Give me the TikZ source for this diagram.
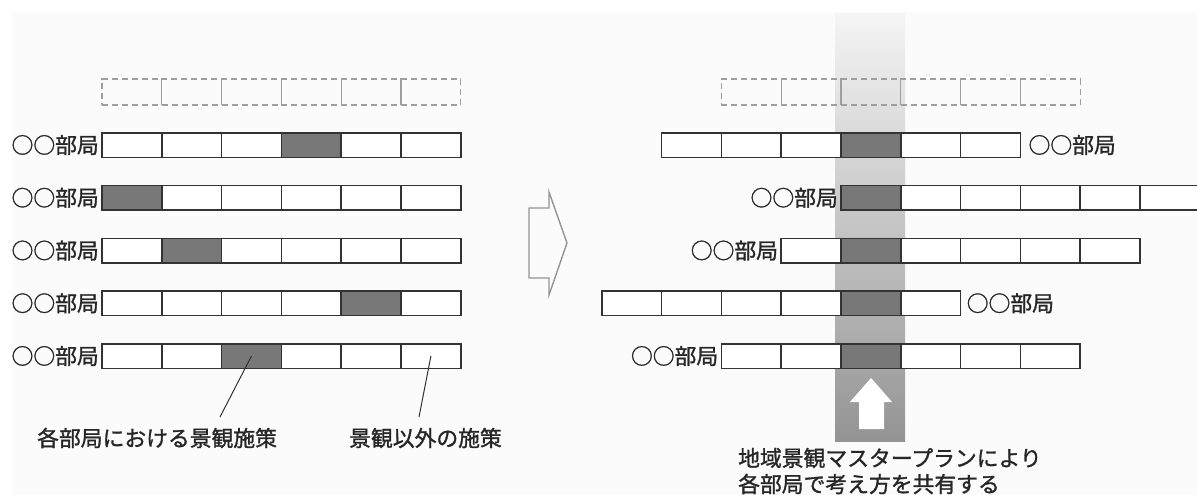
\documentclass[tikz,border=0pt]{standalone}
\usepackage{fontspec}
\newfontfamily\jp[FakeBold=1.3]{Noto Sans CJK JP}
\begin{document}
\begin{tikzpicture}[x=1pt,y=-1pt,
  cell/.style={draw=black!80, line width=1.5pt, fill=white, minimum width=59.8pt, minimum height=24.5pt, inner sep=0pt, outer sep=0pt, anchor=west},
  hot/.style={cell, fill=black!53},
  ghost/.style={draw=black!38, line width=1.1pt, dash pattern=on 6pt off 4pt, minimum width=59.8pt, minimum height=26pt, inner sep=0pt, outer sep=0pt, anchor=west},
  lbl/.style={font=\jp\fontsize{21.8}{26}\selectfont, text=black!85, inner sep=0pt},
  leader/.style={draw=black!80, line width=1pt}]
\useasboundingbox (0,0) rectangle (1197,495);
\clip (0,0) rectangle (1197,495);
\fill[white] (0,0) rectangle (1197,495);
\fill[black!1.5] (12,12) rectangle (1197,495);
% shared-policy band
\shade[top color=black!4, bottom color=black!42] (835,14) rectangle (905,441);
% dashed rows
\foreach \i in {1,...,6} {
  \node[ghost] (GL\i) at ({102+(\i-1)*59.8},92) {};
  \node[ghost] (GR\i) at ({721.4+(\i-1)*59.8},92) {};
}
% left rows
\foreach \r/\y/\k in {1/145/4, 2/197.75/1, 3/250.5/2, 4/303.25/5, 5/356/3} {
  \foreach \i in {1,...,6} {
    \ifnum\i=\k
      \node[hot] (L\r-\i) at ({102+(\i-1)*59.8},\y) {};
    \else
      \node[cell] (L\r-\i) at ({102+(\i-1)*59.8},\y) {};
    \fi
  }
  \node[lbl, anchor=east] (LL\r) at ([xshift=-3pt]L\r-1.west) {○○部局};
}
% right rows
\foreach \r/\y/\k/\n in {1/145/4/6, 2/197.75/1/7, 3/250.5/2/6, 4/303.25/5/6, 5/356/3/6} {
  \foreach \i in {1,...,\n} {
    \ifnum\i=\k
      \node[hot] (R\r-\i) at ({841-(\k-1)*59.8+(\i-1)*59.8},\y) {};
    \else
      \node[cell] (R\r-\i) at ({841-(\k-1)*59.8+(\i-1)*59.8},\y) {};
    \fi
  }
}
\node[lbl, anchor=west] (RL1) at ([xshift=8pt]R1-6.east) {○○部局};
\node[lbl, anchor=east] (RL2) at ([xshift=-3pt]R2-1.west) {○○部局};
\node[lbl, anchor=east] (RL3) at ([xshift=-3pt]R3-1.west) {○○部局};
\node[lbl, anchor=west] (RL4) at ([xshift=6pt]R4-6.east) {○○部局};
\node[lbl, anchor=east] (RL5) at ([xshift=-3pt]R5-1.west) {○○部局};
% middle hollow arrow
\draw[draw=black!42, line width=1.4pt, line join=miter]
  (529,208) -- (549,208) -- (549,192) -- (567,243) -- (549,295) -- (549,278) -- (529,278) -- cycle;
% white up arrow in band
\fill[white] (859,429) -- (884,429) -- (884,402) -- (892,402) -- (871,378) -- (850,402) -- (859,402) -- cycle;
% captions
\node[lbl, anchor=west] (capA) at (37,438) {各部局における景観施策};
\node[lbl, anchor=west] (capB) at (349,438) {景観以外の施策};
\coordinate (ea) at (220,417);
\coordinate (eb) at (419,417);
\draw[leader] (L5-3.center) -- (ea);
\draw[leader] (L5-6.center) -- (eb);
\node[lbl, anchor=west] (capC) at (738,458) {地域景観マスタープランにより};
\node[lbl, anchor=west] (capD) at (738,484) {各部局で考え方を共有する};
\end{tikzpicture}
\end{document}
